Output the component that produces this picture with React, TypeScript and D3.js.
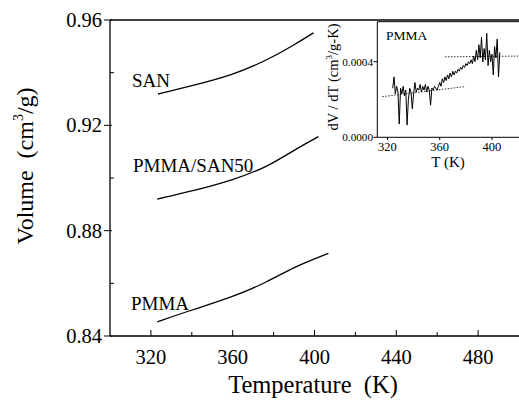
import React from "react";
import * as d3 from "d3";

// Main chart data
const sanT = [323.5, 340, 360, 377, 390, 399.5];
const sanV = [0.9319, 0.935, 0.9391, 0.9448, 0.9505, 0.9551];
const blendT = [323.1, 340, 360, 377, 390, 401.9];
const blendV = [0.892, 0.895, 0.8992, 0.9042, 0.9106, 0.9157];
const pmmaT = [323.1, 340, 360, 377, 390, 406.8];
const pmmaV = [0.8454, 0.8499, 0.8548, 0.8605, 0.8663, 0.8714];

const xMajorTicks = [320, 360, 400, 440, 480];
const xMinorTicks = [340, 380, 420, 460];
const yMajorTicks = [0.84, 0.88, 0.92, 0.96];
const yMinorTicks = [0.86, 0.9, 0.94];

// Inset data: dV/dT of PMMA (units of 1e-4 cm^3/g-K)
const insetT = [
  324, 325, 326, 327, 328, 329, 330, 331, 332, 333, 334, 335, 336, 337, 338, 339,
  340, 341, 342, 343, 344, 345, 346, 347, 348, 349, 350, 351, 352, 353, 354, 355,
  356, 357, 358, 359, 360, 361, 362, 363, 364, 365, 366, 367, 368, 369, 370, 371,
  372, 373, 374, 375, 376, 377, 378, 379, 380, 381, 382, 383, 384, 385, 386, 387,
  388, 389, 390, 391, 392, 393, 394, 395, 396, 397, 398, 399, 400, 401, 402, 403,
  404, 405, 406,
];
const insetD = [
  2.6, 3.2, 2.3, 2.7, 2.4, 0.7, 2.6, 2.3, 2.7, 2.2, 2.5, 0.65, 2.0, 2.6, 2.4, 1.5,
  2.3, 2.9, 2.4, 2.6, 2.5, 2.8, 2.4, 2.7, 2.5, 2.8, 2.4, 2.7, 2.5, 1.7, 2.6, 2.5,
  2.7, 2.6, 2.5, 2.7, 2.9, 2.7, 3.1, 2.9, 3.2, 3.0, 3.3, 3.1, 3.4, 3.2, 3.5, 3.3,
  3.5, 3.4, 3.6, 3.5, 3.7, 3.6, 3.8, 3.7, 3.9, 3.8, 4.0, 3.9, 4.1, 3.9, 4.3, 4.0,
  4.6, 4.1, 4.9, 4.2, 5.3, 4.0, 4.7, 4.1, 5.5, 3.8, 4.6, 4.0, 4.4, 3.3, 4.8, 4.2,
  5.2, 3.2, 4.5,
];
const glassFitT = [316, 378.8];
const glassFitD = [2.15, 2.68];
const meltFitT = [364, 421];
const meltFitD = [4.26, 4.3];
const insetXTicks = [320, 360, 400];
const insetYTicks = [0, 0.0004];
const insetYLabels = ["0.0000", "0.0004"];

const FONT = "'Liberation Serif', 'Times New Roman', serif";

export default function App() {
  const x = d3.scaleLinear().domain([300, 500]).range([110, 519]);
  const y = d3.scaleLinear().domain([0.84, 0.96]).range([336, 20]);

  const line = (ts: number[], vs: number[]) =>
    d3
      .line<number>()
      .x((_, i) => x(ts[i]))
      .y((v) => y(v))
      .curve(d3.curveBasis)(vs) as string;

  // inset scales
  const ix = d3.scaleLinear().domain([312.2, 420.7]).range([377.3, 519]);
  const iy = d3.scaleLinear().domain([0, 0.000612]).range([137.3, 21.7]);
  const iline = (ts: number[], ds: number[]) =>
    d3
      .line<number>()
      .x((_, i) => ix(ts[i]))
      .y((d) => iy(d * 1e-4))(ds) as string;

  const curves = [
    { t: sanT, v: sanV },
    { t: blendT, v: blendV },
    { t: pmmaT, v: pmmaV },
  ];

  return (
    <svg width={519} height={403} style={{ position: "absolute", left: 0, top: 0, background: "#fff" }} fontFamily={FONT}>
      <rect x={0} y={0} width={519} height={403} fill="#fff" />
      {/* main axes */}
      <line x1={110} y1={y(0.84)} x2={519} y2={y(0.84)} stroke="#000" strokeWidth={1.3} />
      <line x1={110} y1={y(0.96)} x2={519} y2={y(0.96)} stroke="#000" strokeWidth={1.3} />
      <line x1={110} y1={y(0.84)} x2={110} y2={y(0.96)} stroke="#000" strokeWidth={1.3} />
      {xMajorTicks.map((t) => (
        <g key={"xm" + t}>
          <line x1={x(t)} x2={x(t)} y1={y(0.84)} y2={y(0.84) - 6} stroke="#000" strokeWidth={1} />
          <text x={x(t)} y={364} fontSize={20.5} textAnchor="middle">{t}</text>
        </g>
      ))}
      {xMinorTicks.map((t) => (
        <line key={"xn" + t} x1={x(t)} x2={x(t)} y1={y(0.84)} y2={y(0.84) - 4} stroke="#000" strokeWidth={1} />
      ))}
      {yMajorTicks.map((v) => (
        <g key={"ym" + v}>
          <line x1={104} x2={112} y1={y(v)} y2={y(v)} stroke="#000" strokeWidth={1} />
          <text x={102} y={y(v) + 7} fontSize={20.5} textAnchor="end">{v.toFixed(2)}</text>
        </g>
      ))}
      {yMinorTicks.map((v) => (
        <line key={"yn" + v} x1={110} x2={114} y1={y(v)} y2={y(v)} stroke="#000" strokeWidth={1} />
      ))}
      <text x={313} y={393} fontSize={24.5} textAnchor="middle">Temperature{"\u00a0\u00a0"}(K)</text>
      <text transform="translate(33,166) rotate(-90)" fontSize={24} textAnchor="middle">
        Volume{"\u00a0\u00a0"}(cm<tspan fontSize={14} dy={-10}>3</tspan><tspan dy={10}>/g)</tspan>
      </text>

      {curves.map((c, i) => (
        <path key={i} d={line(c.t, c.v)} fill="none" stroke="#000" strokeWidth={1.3} />
      ))}
      <text x={132} y={87} fontSize={19}>SAN</text>
      <text x={133} y={172} fontSize={19}>PMMA/SAN50</text>
      <text x={131} y={310} fontSize={19}>PMMA</text>

      {/* inset */}
      <line x1={377.3} y1={21.7} x2={519} y2={21.7} stroke="#000" strokeWidth={1} />
      <line x1={377.3} y1={21.7} x2={377.3} y2={137.3} stroke="#000" strokeWidth={1} />
      <line x1={377.3} y1={137.3} x2={519} y2={137.3} stroke="#000" strokeWidth={1} />
      {insetYTicks.map((v, i) => (
        <g key={"iy" + v}>
          <line x1={373.5} x2={377.3} y1={iy(v)} y2={iy(v)} stroke="#000" strokeWidth={1} />
          <text x={373} y={iy(v) + 4} fontSize={11.2} textAnchor="end">{insetYLabels[i]}</text>
        </g>
      ))}
      {insetXTicks.map((t) => (
        <g key={"ix" + t}>
          <line x1={ix(t)} x2={ix(t)} y1={137.3} y2={140} stroke="#000" strokeWidth={1} />
          <text x={ix(t)} y={151} fontSize={12.5} textAnchor="middle">{t}</text>
        </g>
      ))}
      <text x={448} y={167} fontSize={15} textAnchor="middle">T (K)</text>
      <text transform="translate(338,77) rotate(-90)" fontSize={14.5} textAnchor="middle">
        dV / dT{"\u00a0"}(cm<tspan fontSize={9} dy={-6}>3</tspan><tspan dy={6}>/g-K)</tspan>
      </text>
      <text x={386} y={39.5} fontSize={13.5}>PMMA</text>
      <path d={iline(glassFitT, glassFitD)} fill="none" stroke="#000" strokeWidth={0.8} strokeDasharray="1.5,1.5" />
      <path d={iline(meltFitT, meltFitD)} fill="none" stroke="#000" strokeWidth={0.8} strokeDasharray="1.5,1.5" />
      <path d={iline(insetT, insetD)} fill="none" stroke="#000" strokeWidth={1} />
    </svg>
  );
}
